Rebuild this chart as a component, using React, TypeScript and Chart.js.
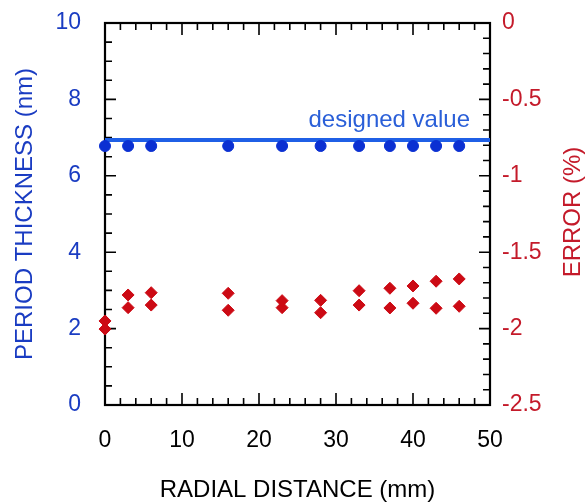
import React, { useEffect, useRef } from "react";
import { Chart, registerables } from "chart.js";

Chart.register(...registerables);

// ---- data ----
const radialDistance = [0, 3, 6, 16, 23, 28, 33, 37, 40, 43, 46];
const periodThickness = [6.78, 6.78, 6.78, 6.78, 6.78, 6.78, 6.78, 6.78, 6.78, 6.78, 6.78];
const designedValue = 6.94;
const designedRange = [0, 50];
const errorUpper = [-1.95, -1.78, -1.765, -1.769, -1.817, -1.815, -1.752, -1.736, -1.721, -1.69, -1.675];
const errorLower = [-2.003, -1.863, -1.846, -1.88, -1.863, -1.896, -1.846, -1.865, -1.834, -1.867, -1.854];

const xLimits = [0, 50];
const yLimits = [0, 10];
const errLimits = [-2.5, 0];

const FONT = "'Liberation Sans', Arial, Helvetica, sans-serif";
const BLUE_TXT = "#1a3cc2";
const RED_TXT = "#c41a2a";
const BLUE_DOT = "#0b30d2";
const BLUE_LINE = "#1f5fe6";
const RED_DOT = "#cc0a14";

const framePlugin = {
  id: "frame",
  beforeDatasetsDraw(chart: any) {
    const { ctx, chartArea: a, scales } = chart;
    const x = scales.x, y = scales.y, y2 = scales.y2;
    ctx.save();
    ctx.strokeStyle = "#000";
    ctx.lineWidth = 1.6;
    ctx.beginPath();
    for (let i = 0; i <= 25; i++) {
      const v = i * 2;
      const px = x.getPixelForValue(v);
      const len = v % 10 === 0 ? 12 : 7;
      ctx.moveTo(px, a.bottom);
      ctx.lineTo(px, a.bottom - len);
      ctx.moveTo(px, a.top);
      ctx.lineTo(px, a.top + len);
    }
    for (let i = 0; i <= 20; i++) {
      const py = y.getPixelForValue(i * 0.5);
      const len = i % 4 === 0 ? 11 : 7;
      ctx.moveTo(a.left, py);
      ctx.lineTo(a.left + len, py);
    }
    for (let i = 0; i <= 25; i++) {
      const py = y2.getPixelForValue(-i * 0.1);
      const len = i % 5 === 0 ? 11 : 7;
      ctx.moveTo(a.right, py);
      ctx.lineTo(a.right - len, py);
    }
    ctx.stroke();
    ctx.lineWidth = 2.2;
    ctx.strokeRect(a.left, a.top, a.right - a.left, a.bottom - a.top);
    ctx.restore();
  },
  afterDatasetsDraw(chart: any) {
    const { ctx, scales } = chart;
    const x = scales.x, y = scales.y;
    ctx.save();
    ctx.font = `24px ${FONT}`;
    ctx.fillStyle = "#2a5fd8";
    ctx.textAlign = "right";
    ctx.textBaseline = "alphabetic";
    ctx.fillText("designed value", x.getPixelForValue(47.4), y.getPixelForValue(designedValue) - 13);
    ctx.translate(573, 212);
    ctx.rotate(-Math.PI / 2);
    ctx.textAlign = "center";
    ctx.textBaseline = "middle";
    ctx.fillStyle = RED_TXT;
    ctx.fillText("ERROR (%)", 0, 0);
    ctx.restore();
  },
};

export default function App() {
  const ref = useRef<HTMLCanvasElement>(null);
  useEffect(() => {
    document.body.style.margin = "0";
    const canvas = ref.current!;
    const chart = new Chart(canvas, {
      type: "scatter",
      data: {
        datasets: [
          {
            label: "period thickness",
            data: radialDistance.map((d, i) => ({ x: d, y: periodThickness[i] })),
            yAxisID: "y",
            backgroundColor: BLUE_DOT,
            borderColor: BLUE_DOT,
            pointRadius: 5.5,
            pointStyle: "circle",
            clip: false,
            order: 0,
          },
          {
            label: "error upper",
            data: radialDistance.map((d, i) => ({ x: d, y: errorUpper[i] })),
            yAxisID: "y2",
            backgroundColor: RED_DOT,
            borderColor: RED_DOT,
            pointRadius: 6,
            pointStyle: "rectRot",
            clip: false,
            order: 1,
          },
          {
            label: "error lower",
            data: radialDistance.map((d, i) => ({ x: d, y: errorLower[i] })),
            yAxisID: "y2",
            backgroundColor: RED_DOT,
            borderColor: RED_DOT,
            pointRadius: 6,
            pointStyle: "rectRot",
            clip: false,
            order: 1,
          },
          {
            type: "line",
            label: "designed value",
            data: designedRange.map((d) => ({ x: d, y: designedValue })),
            yAxisID: "y",
            borderColor: BLUE_LINE,
            borderWidth: 4,
            pointRadius: 0,
            clip: false,
            order: 5,
          } as any,
        ],
      },
      options: {
        responsive: false,
        animation: false,
        layout: { padding: { top: 23, left: 0, right: 0, bottom: 0 } },
        plugins: { legend: { display: false }, tooltip: { enabled: false } },
        scales: {
          x: {
            type: "linear",
            min: xLimits[0],
            max: xLimits[1],
            grid: { display: false, drawTicks: false },
            border: { display: false },
            ticks: {
              stepSize: 10,
              padding: 22,
              color: "#000",
              font: { family: FONT, size: 23 },
              maxRotation: 0,
            },
            title: {
              display: true,
              text: "RADIAL DISTANCE (mm)",
              color: "#000",
              font: { family: FONT, size: 24, lineHeight: 1 },
              padding: { top: 0, bottom: 1.5 },
            },
            afterFit: (s: any) => {
              s.height = 99;
              s.paddingLeft = 0;
              s.paddingRight = 0;
            },
          },
          y: {
            type: "linear",
            position: "left",
            min: yLimits[0],
            max: yLimits[1],
            grid: { display: false, drawTicks: false },
            border: { display: false },
            ticks: {
              stepSize: 2,
              padding: 24,
              color: BLUE_TXT,
              font: { family: FONT, size: 23 },
            },
            title: {
              display: true,
              text: "PERIOD THICKNESS (nm)",
              color: BLUE_TXT,
              font: { family: FONT, size: 24, lineHeight: 1 },
              padding: { top: 13, bottom: 0 },
            },
            afterFit: (s: any) => {
              s.width = 105;
              s.paddingTop = 0;
              s.paddingBottom = 0;
            },
          },
          y2: {
            type: "linear",
            position: "right",
            min: errLimits[0],
            max: errLimits[1],
            grid: { display: false, drawTicks: false },
            border: { display: false },
            ticks: {
              stepSize: 0.5,
              padding: 12,
              color: RED_TXT,
              font: { family: FONT, size: 23 },
              callback: (v: any) => String(Number(v)),
            },
            afterFit: (s: any) => {
              s.width = 96;
              s.paddingTop = 0;
              s.paddingBottom = 0;
            },
          },
        },
      },
      plugins: [framePlugin],
    } as any);
    return () => chart.destroy();
  }, []);
  return (
    <div style={{ width: 586, height: 504 }}>
      <canvas ref={ref} width={586} height={504} />
    </div>
  );
}
